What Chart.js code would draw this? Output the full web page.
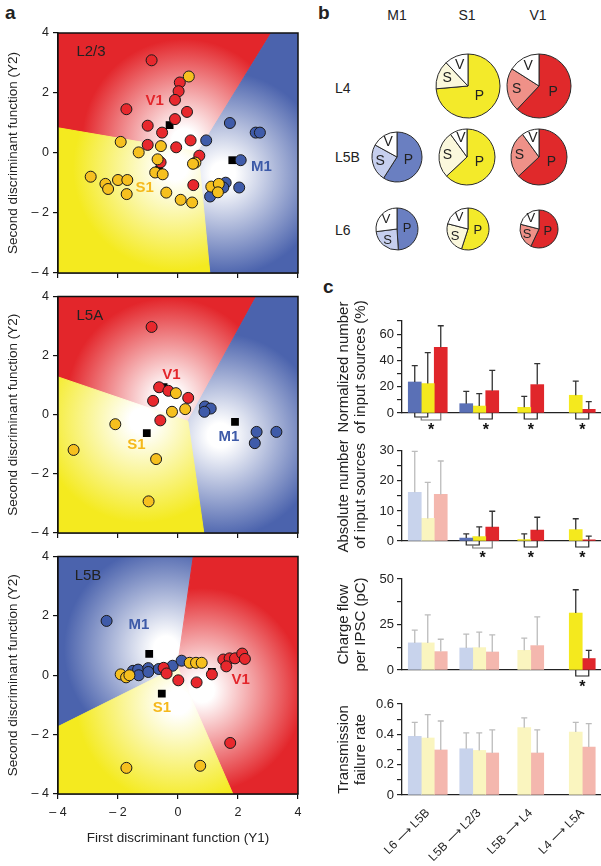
<!DOCTYPE html>
<html>
<head>
<meta charset="utf-8">
<script src="https://cdn.jsdelivr.net/npm/chart.js@4.4.1/dist/chart.umd.min.js"></script>
<style>
html, body { margin: 0; padding: 0; background: #fff; }
body { position: relative; width: 601px; height: 866px; overflow: hidden;
       font-family: "Liberation Sans", Arial, Helvetica, sans-serif; color: #222; }
canvas, .lbl { position: absolute; }
.lbl { font-size: 14px; line-height: 1; white-space: nowrap; transform: translate(-50%, -50%); }
.row { transform: translate(0, -50%); }
.panel { font-weight: bold; font-size: 19px; transform: none; }
</style>
</head>
<body>
<div class="lbl panel" style="left:5px;top:3px">a</div>
<div class="lbl panel" style="left:318px;top:3px">b</div>
<div class="lbl panel" style="left:323px;top:277px">c</div>

<div class="lbl" style="left:397px;top:15px">M1</div>
<div class="lbl" style="left:467px;top:15px">S1</div>
<div class="lbl" style="left:538px;top:15px">V1</div>
<div class="lbl row" style="left:335px;top:88px">L4</div>
<div class="lbl row" style="left:335px;top:157px">L5B</div>
<div class="lbl row" style="left:335px;top:230px">L6</div>

<script>
Chart.defaults.font.family = '"Liberation Sans", Arial, Helvetica, sans-serif';
Chart.defaults.color = '#222';
Chart.defaults.animation = false;
Chart.defaults.plugins.legend.display = false;
Chart.defaults.plugins.tooltip.enabled = false;

// ---------- panel a: discriminant scores [Y1, Y2] ----------
const l23V1 = [[-0.88,3.09],[0.06,2.35],[0.02,2.06],[-0.1,1.77],[0.3,1.37],[-1.72,1.46],[-0.1,1.13],
  [-1.01,0.91],[-0.53,0.68],[-1.01,0.27],[-0.06,0.19],[0.42,0.42],[0.71,-0.09],[-0.58,-0.31],[0.51,-1.07]];
const l23S1 = [[0.36,2.55],[-1.91,0.37],[-1.31,0.02],[-0.57,0.23],[-0.68,-0.21],[0.58,-0.32],[0.5,-0.36],
  [-2.91,-0.79],[-2.42,-1.03],[-2.33,-1.2],[-2.0,-0.9],[-1.69,-0.9],[-1.71,-1.37],[-0.76,-0.65],
  [-0.51,-0.71],[-0.39,-1.32],[0.09,-1.56],[0.47,-1.65],[1.11,-1.12],[1.36,-1.03],[1.33,-1.31]];
const l23M1 = [[0.94,0.42],[1.73,1.0],[2.59,0.68],[2.73,0.68],[2.09,-0.24],[2.04,-1.15],[1.59,-0.99],
  [1.51,-1.15],[1.07,-1.45]];
const l23Means = [[-0.28,0.93],[-0.63,-0.56],[1.81,-0.24]];

const l5aV1 = [[-0.88,2.97],[-0.63,0.93],[-0.32,0.81],[0.34,0.57],[-0.83,0.47],[-0.59,-0.19]];
const l5aS1 = [[-0.07,0.73],[0.24,0.19],[-0.2,0.1],[-2.09,-0.32],[-3.48,-1.19],[-0.73,-1.5],[-0.98,-2.93]];
const l5aM1 = [[0.9,0.28],[1.09,0.21],[0.88,0.1],[2.62,-0.58],[3.28,-0.58],[2.56,-0.96]];
const l5aMeans = [[-0.48,0.93],[-1.04,-0.62],[1.9,-0.24]];

const l5bV1 = [[-0.48,0.25],[-0.38,0.06],[0.01,-0.17],[0.62,-0.24],[1.13,0.03],[1.51,0.53],[1.72,0.57],
  [1.9,0.57],[1.61,0.3],[2.14,0.73],[2.23,0.55],[1.74,-2.28]];
const l5bS1 = [[-1.91,0.03],[-1.73,-0.07],[-1.62,0.0],[0.39,0.42],[0.6,0.42],[0.79,0.42],[-1.72,-3.12],[0.74,-3.05]];
const l5bM1 = [[-2.38,1.83],[-1.5,0.15],[-1.33,0.19],[-1.31,0.0],[-0.99,0.24],[-0.99,0.11],[-0.64,0.21],
  [-0.18,0.32],[0.12,0.49]];
const l5bMeans = [[1.13,0.11],[-0.54,-0.62],[-0.96,0.72]];

const RED = '#e3262b', YEL = '#f4ea1f', BLU = '#4b63ad';

// classification zones (polygons in Y1/Y2 units) and where each fades to white
const l23Zones = [
  {color: RED, glow: [0.2, 0.4], poly: [[0.67,0.04],[-4,0.84],[-4,4],[3.11,4]]},
  {color: BLU, glow: [1.5, -0.7], poly: [[0.67,0.04],[3.11,4],[4,4],[4,-4],[1.06,-4]]},
  {color: YEL, glow: [-0.1, -0.5], poly: [[0.67,0.04],[1.06,-4],[-4,-4],[-4,0.84]]}
];
const l5aZones = [
  {color: RED, glow: [-0.3, 0.5], poly: [[0.33,-0.22],[-4,1.28],[-4,4],[2.61,4]]},
  {color: BLU, glow: [1.4, -0.7], poly: [[0.33,-0.22],[2.61,4],[4,4],[4,-4],[0.86,-4]]},
  {color: YEL, glow: [-1.2, -0.2], poly: [[0.33,-0.22],[0.86,-4],[-4,-4],[-4,1.28]]}
];
const l5bZones = [
  {color: BLU, glow: [-0.4, 0.9], poly: [[-0.02,0.28],[0.51,4],[-4,4],[-4,-1.73]]},
  {color: RED, glow: [0.8, -0.5], poly: [[-0.02,0.28],[0.51,4],[4,4],[4,-4],[1.83,-4]]},
  {color: YEL, glow: [0, -0.9], poly: [[-0.02,0.28],[1.83,-4],[-4,-4],[-4,-1.73]]}
];

const zonePlugin = {
  id: 'zones',
  beforeDatasetsDraw(chart, args, opts) {
    const {ctx, chartArea: a, scales: {x, y}} = chart;
    const unit = x.getPixelForValue(1) - x.getPixelForValue(0);
    ctx.save();
    ctx.beginPath();
    ctx.rect(a.left, a.top, a.width, a.height);
    ctx.clip();
    opts.zones.forEach(z => {
      const cx = x.getPixelForValue(z.glow[0]), cy = y.getPixelForValue(z.glow[1]);
      const g = ctx.createRadialGradient(cx, cy, 0, cx, cy, 3.4 * unit);
      g.addColorStop(0, '#ffffff');
      g.addColorStop(0.12, '#ffffff');
      g.addColorStop(1, z.color);
      ctx.fillStyle = g;
      ctx.strokeStyle = g;
      ctx.lineWidth = 1;
      ctx.beginPath();
      z.poly.forEach((p, i) => {
        const px = x.getPixelForValue(p[0]), py = y.getPixelForValue(p[1]);
        if (i) ctx.lineTo(px, py); else ctx.moveTo(px, py);
      });
      ctx.closePath();
      ctx.fill();
      ctx.stroke();
    });
    ctx.textAlign = 'center';
    ctx.textBaseline = 'middle';
    opts.tags.forEach(t => {
      ctx.font = (t.bold ? 'bold ' : '') + '15px "Liberation Sans", Arial, sans-serif';
      ctx.fillStyle = t.color;
      ctx.fillText(t.text, x.getPixelForValue(t.at[0]), y.getPixelForValue(t.at[1]));
    });
    ctx.restore();
  },
  afterDraw(chart) {
    const {ctx, chartArea: a} = chart;
    ctx.save();
    ctx.strokeStyle = '#111';
    ctx.lineWidth = 1.5;
    ctx.strokeRect(a.left, a.top, a.width, a.height);
    ctx.restore();
  }
};

const minus = v => v < 0 ? '\u2013 ' + Math.abs(v) : String(v);

function discChart(top, height, padTop, xHeight, bottomAxis, v1, s1, m1, means, zones, tags) {
  const el = document.createElement('canvas');
  el.width = 310; el.height = height;
  el.style.left = '0px'; el.style.top = top + 'px';
  document.body.appendChild(el);
  const pts = arr => arr.map(p => ({x: p[0], y: p[1]}));
  const dot = {pointRadius: 5.5, borderWidth: 1, borderColor: '#1a1a1a'};
  new Chart(el, {
    type: 'scatter',
    data: {datasets: [
      Object.assign({data: pts(s1), backgroundColor: '#f6c01f'}, dot),
      Object.assign({data: pts(v1), backgroundColor: '#e8282d'}, dot),
      Object.assign({data: pts(m1), backgroundColor: '#3f5ba9'}, dot),
      {data: pts(means), pointStyle: 'rect', pointRadius: 5.5, backgroundColor: '#000', borderWidth: 0}
    ]},
    options: {
      responsive: false,
      layout: {padding: {top: padTop, right: 12, left: 0, bottom: 0}},
      scales: {
        x: {
          type: 'linear', min: -4, max: 4,
          ticks: {stepSize: 2, display: bottomAxis, callback: minus, font: {size: 12.5}, padding: 6, maxRotation: 0},
          grid: {drawOnChartArea: false, tickLength: 5, color: '#111', lineWidth: 1.2},
          border: {color: '#111', width: 1.5},
          title: {display: bottomAxis, text: 'First discriminant function (Y1)', font: {size: 13.5}, padding: {top: 4, bottom: 20}},
          afterFit: s => { s.height = xHeight; }
        },
        y: {
          min: -4, max: 4,
          ticks: {stepSize: 2, callback: minus, font: {size: 12.5}, padding: 4},
          grid: {drawOnChartArea: false, tickLength: 5, color: '#111', lineWidth: 1.2},
          border: {color: '#111', width: 1.5},
          title: {display: true, text: 'Second discriminant function (Y2)', font: {size: 13.5}, padding: {top: 5, bottom: 0}},
          afterFit: s => { s.width = 58; }
        }
      },
      plugins: {zones: {zones, tags}}
    },
    plugins: [zonePlugin]
  });
}

discChart(20, 265, 13, 12, false, l23V1, l23S1, l23M1, l23Means, l23Zones, [
  {text: 'V1', at: [-0.78, 1.73], color: RED, bold: true},
  {text: 'S1', at: [-1.11, -1.17], color: '#f5b91c', bold: true},
  {text: 'M1', at: [2.78, -0.45], color: '#3d5aa8', bold: true},
  {text: 'L2/3', at: [-2.9, 3.37], color: '#222'}
]);
discChart(285, 260, 8, 12, false, l5aV1, l5aS1, l5aM1, l5aMeans, l5aZones, [
  {text: 'V1', at: [-0.22, 1.36], color: RED, bold: true},
  {text: 'S1', at: [-1.39, -1.02], color: '#f5b91c', bold: true},
  {text: 'M1', at: [1.7, -0.76], color: '#3d5aa8', bold: true},
  {text: 'L5A', at: [-2.94, 3.34], color: '#222'}
]);
discChart(545, 321, 8, 72, true, l5bV1, l5bS1, l5bM1, l5bMeans, l5bZones, [
  {text: 'V1', at: [2.09, -0.17], color: RED, bold: true},
  {text: 'S1', at: [-0.54, -1.1], color: '#f5b91c', bold: true},
  {text: 'M1', at: [-1.3, 1.71], color: '#3d5aa8', bold: true},
  {text: 'L5B', at: [-3.0, 3.34], color: '#222'}
]);

// ---------- panel b: fraction of P / S / V input ----------
const pieParts = ['P', 'S', 'V'];
const l4S1 = [73.6, 14.4, 12];
const l4V1 = [62, 22, 16];
const l5bPieM1 = [59, 24, 17];
const l5bPieS1 = [63, 27, 10];
const l5bPieV1 = [63, 27, 10];
const l6M1 = [49, 24, 27];
const l6S1 = [55, 24, 21];
const l6V1 = [57, 22, 21];

const pieFill = {
  M1: ['#6a7fc1', '#c6cfee', '#ffffff'],
  S1: ['#f3ea2a', '#fbf8dc', '#ffffff'],
  V1: ['#e0292b', '#ef9188', '#ffffff']
};

const pieLabels = {
  id: 'pieLabels',
  afterDatasetsDraw(chart) {
    const {ctx} = chart;
    const meta = chart.getDatasetMeta(0);
    ctx.save();
    ctx.fillStyle = '#222';
    ctx.textAlign = 'center';
    ctx.textBaseline = 'middle';
    meta.data.forEach((arc, i) => {
      const p = arc.getProps(['x', 'y', 'startAngle', 'endAngle', 'outerRadius']);
      const mid = (p.startAngle + p.endAngle) / 2;
      const k = i === 0 ? 0.48 : 0.7;
      ctx.font = (p.outerRadius > 24 ? 14 : 13) + 'px "Liberation Sans", Arial, sans-serif';
      ctx.fillText(chart.data.labels[i], p.x + Math.cos(mid) * p.outerRadius * k, p.y + Math.sin(mid) * p.outerRadius * k);
    });
    ctx.restore();
  }
};

function pie(values, area, cx, cy, r) {
  const el = document.createElement('canvas');
  const size = 2 * r + 4;
  el.width = size; el.height = size;
  el.style.left = (cx - size / 2) + 'px';
  el.style.top = (cy - size / 2) + 'px';
  document.body.appendChild(el);
  new Chart(el, {
    type: 'pie',
    data: {labels: pieParts, datasets: [{data: values, backgroundColor: pieFill[area],
      borderColor: '#2a2a2a', borderWidth: 1, radius: r}]},
    options: {responsive: false, layout: {padding: 0}},
    plugins: [pieLabels]
  });
}

pie(l4S1, 'S1', 468, 86, 32);
pie(l4V1, 'V1', 539, 86, 32);
pie(l5bPieM1, 'M1', 397, 157, 25);
pie(l5bPieS1, 'S1', 467, 157, 28);
pie(l5bPieV1, 'V1', 539, 157, 28);
pie(l6M1, 'M1', 397, 229, 21);
pie(l6S1, 'S1', 468, 229, 21);
pie(l6V1, 'V1', 539, 229, 19);

// ---------- panel c: connection properties per pathway ----------
const pathways = ['L6 \u27F6 L5B', 'L5B \u27F6 L2/3', 'L5B \u27F6 L4', 'L4 \u27F6 L5A'];

const normM1 = [23.6, 7.1, null, null],    normM1Sd = [12.5, 9.4, null, null];
const normS1 = [22.4, 5.3, 4.3, 13.5],     normS1Sd = [23.6, 9.4, 8.4, 10.7];
const normV1 = [50.0, 17.0, 21.6, 2.8],    normV1Sd = [16.4, 15.5, 16.0, 5.8];

const absM1 = [16.2, 1.0, null, null],     absM1Sd = [13.6, 1.4, null, null];
const absS1 = [7.5, 1.5, 0.5, 3.8],        absS1Sd = [12.0, 3.2, 1.9, 3.6];
const absV1 = [15.5, 4.6, 3.6, 0.4],       absV1Sd = [11.1, 5.3, 4.3, 1.2];

const qM1 = [14.9, 12.1, null, null],      qM1Sd = [7.0, 7.6, null, null];
const qS1 = [14.9, 12.3, 10.8, 31.3],      qS1Sd = [15.4, 8.5, 6.7, 12.8];
const qV1 = [10.1, 9.9, 13.4, 6.3],        qV1Sd = [6.8, 9.4, 15.8, 4.5];

const failM1 = [0.387, 0.305, null, null], failM1Sd = [0.092, 0.104, null, null];
const failS1 = [0.376, 0.294, 0.444, 0.415], failS1Sd = [0.154, 0.115, 0.064, 0.064];
const failV1 = [0.297, 0.277, 0.277, 0.316], failV1Sd = [0.191, 0.152, 0.153, 0.154];

const strong = ['#5a70b6', '#f4e91e', '#e0262b'];
const pale = ['#c8d3ec', '#faf5bf', '#f4b7ae'];

const whiskers = {
  id: 'whiskers',
  afterDatasetsDraw(chart, args, opts) {
    const {ctx, chartArea: a, scales: {y}} = chart;
    ctx.save();
    ctx.lineWidth = 1.3;
    chart.data.datasets.forEach((ds, i) => {
      const meta = chart.getDatasetMeta(i);
      ds.data.forEach((v, j) => {
        if (v == null) return;
        const bar = meta.data[j];
        const top = y.getPixelForValue(v + ds.sd[j]);
        ctx.strokeStyle = opts.faded[j] ? '#bcbcbc' : '#333';
        ctx.beginPath();
        ctx.moveTo(bar.x, bar.y);
        ctx.lineTo(bar.x, top);
        ctx.moveTo(bar.x - 3, top);
        ctx.lineTo(bar.x + 3, top);
        ctx.stroke();
      });
    });
    // significance brackets below the axis
    const b = a.bottom;
    ctx.lineWidth = 1.2;
    opts.sig.forEach(([g, kind]) => {
      const xs = [0, 1, 2].map(i => chart.getDatasetMeta(i).data[g].x);
      let from, to;
      ctx.strokeStyle = '#222';
      if (kind === 'nested') {
        ctx.beginPath();
        ctx.moveTo(xs[0], b); ctx.lineTo(xs[0], b + 4); ctx.lineTo(xs[1], b + 4); ctx.lineTo(xs[1], b);
        ctx.stroke();
        from = (xs[0] + xs[1]) / 2;
        to = xs[2];
        ctx.strokeStyle = '#777';
        ctx.beginPath();
        ctx.moveTo(from, b + 4); ctx.lineTo(from, b + 7); ctx.lineTo(to, b + 7); ctx.lineTo(to, b);
        ctx.stroke();
      } else {
        from = xs[1]; to = xs[2];
        ctx.beginPath();
        ctx.moveTo(from, b); ctx.lineTo(from, b + 6); ctx.lineTo(to, b + 6); ctx.lineTo(to, b);
        ctx.stroke();
      }
      ctx.fillStyle = '#111';
      ctx.font = 'bold 16px "Liberation Sans", Arial, sans-serif';
      ctx.textAlign = 'center';
      ctx.textBaseline = 'middle';
      ctx.fillText('*', (from + to) / 2, b + 18);
    });
    ctx.restore();
  }
};

function barChart(cfg) {
  const el = document.createElement('canvas');
  el.width = 310; el.height = cfg.height;
  el.style.left = '300px'; el.style.top = cfg.top + 'px';
  document.body.appendChild(el);
  const sets = [cfg.m1, cfg.s1, cfg.v1].map((d, i) => ({
    data: d[0], sd: d[1],
    backgroundColor: cfg.faded.map(f => f ? pale[i] : strong[i]),
    barThickness: 13, skipNull: true, borderWidth: 0
  }));
  new Chart(el, {
    type: 'bar',
    data: {labels: pathways, datasets: sets},
    options: {
      responsive: false,
      layout: {padding: {top: cfg.padTop, right: 2, left: 0, bottom: 0}},
      scales: {
        x: {
          offset: true,
          grid: {display: false},
          border: {color: '#222', width: 1.3},
          ticks: {display: cfg.labels, autoSkip: false, minRotation: 45, maxRotation: 45, font: {size: 12}, padding: 3},
          afterFit: s => { s.height = cfg.xHeight; }
        },
        y: {
          min: 0, max: cfg.max,
          ticks: {stepSize: cfg.step, autoSkip: false, font: {size: 13}, padding: 3,
            callback: v => cfg.show(v) ? String(+v.toFixed(2)) : ''},
          grid: {drawOnChartArea: false, tickLength: 5, color: '#222', lineWidth: 1.2},
          border: {color: '#222', width: 1.3},
          title: {display: true, text: cfg.title, font: {size: 15, lineHeight: 1.1}, padding: {top: 36, bottom: 0}},
          afterFit: s => { s.width = 102; }
        }
      },
      plugins: {whiskers: {faded: cfg.faded, sig: cfg.sig}}
    },
    plugins: [whiskers]
  });
}

barChart({top: 300, height: 140, padTop: 21, xHeight: 27, labels: false,
  m1: [normM1, normM1Sd], s1: [normS1, normS1Sd], v1: [normV1, normV1Sd],
  max: 70, step: 10, show: v => v % 20 === 0,
  title: ['Normalized number', 'of input sources (%)'],
  faded: [false, false, false, false], sig: [[0, 'nested'], [1, 'pair'], [2, 'pair'], [3, 'pair']]});

barChart({top: 440, height: 126, padTop: 10, xHeight: 25, labels: false,
  m1: [absM1, absM1Sd], s1: [absS1, absS1Sd], v1: [absV1, absV1Sd],
  max: 30, step: 5, show: v => v % 10 === 0,
  title: ['Absolute number', 'of input sources'],
  faded: [true, false, false, false], sig: [[1, 'nested'], [2, 'pair'], [3, 'pair']]});

barChart({top: 566, height: 126, padTop: 13, xHeight: 22, labels: false,
  m1: [qM1, qM1Sd], s1: [qS1, qS1Sd], v1: [qV1, qV1Sd],
  max: 50, step: 12.5, show: v => v % 25 === 0,
  title: ['Charge flow', 'per IPSC (pC)'],
  faded: [true, true, true, false], sig: [[3, 'pair']]});

barChart({top: 692, height: 174, padTop: 12, xHeight: 71, labels: true,
  m1: [failM1, failM1Sd], s1: [failS1, failS1Sd], v1: [failV1, failV1Sd],
  max: 0.6, step: 0.1, show: v => Math.round(v * 10) % 2 === 0,
  title: ['Transmission', 'failure rate'],
  faded: [true, true, true, true], sig: []});
</script>
</body>
</html>
